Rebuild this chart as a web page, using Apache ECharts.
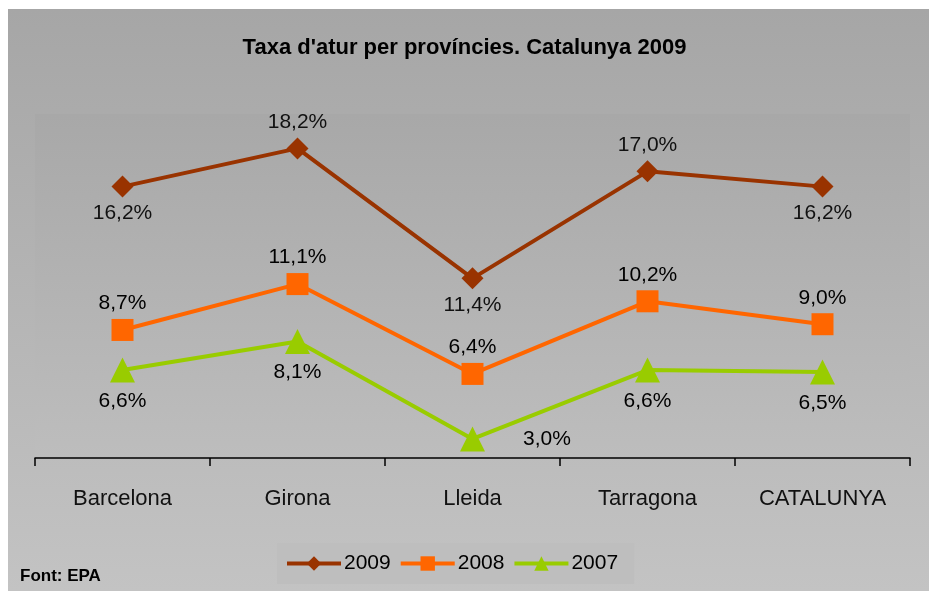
<!DOCTYPE html>
<html>
<head>
<meta charset="utf-8">
<script src="https://cdn.jsdelivr.net/npm/echarts@6/dist/echarts.min.js"></script>
<style>
html,body{margin:0;padding:0;background:#fff;}
#c{width:929px;height:591px;}
</style>
</head>
<body>
<div id="c"></div>
<script>
const categories = ['Barcelona', 'Girona', 'Lleida', 'Tarragona', 'CATALUNYA'];
const seriesNames = ['2009', '2008', '2007'];
const values2009 = [16.2, 18.2, 11.4, 17.0, 16.2];
const values2008 = [8.7, 11.1, 6.4, 10.2, 9.0];
const values2007 = [6.6, 8.1, 3.0, 6.6, 6.5];
const valueLabels2009 = ['16,2%', '18,2%', '11,4%', '17,0%', '16,2%'];
const valueLabels2008 = ['8,7%', '11,1%', '6,4%', '10,2%', '9,0%'];
const valueLabels2007 = ['6,6%', '8,1%', '3,0%', '6,6%', '6,5%'];

const NARROW = '"Liberation Sans Narrow", "Arial Narrow", "Liberation Sans", sans-serif';
const REG = '"Liberation Sans", Arial, sans-serif';

// label placement per point (style)
const place2009 = ['bottom', 'top', 'bottom', 'top', 'bottom'];
const place2008 = ['top', 'top', 'top', 'top', 'top'];
const place2007 = ['bottom', 'bottom', 'right', 'bottom', 'bottom'];

function build(vals, texts, places, dist, rightDist) {
  return vals.map((v, i) => ({
    value: v,
    label: {
      position: places[i],
      distance: places[i] === 'right' ? rightDist : dist,
      formatter: texts[i]
    }
  }));
}

const chart = echarts.init(document.getElementById('c'));
chart.setOption({
  backgroundColor: '#ffffff',
  animation: false,
  graphic: [{
    type: 'rect',
    z: -10,
    silent: true,
    shape: {x: 8, y: 9, width: 921, height: 582},
    style: {
      fill: new echarts.graphic.LinearGradient(0, 0, 0, 1, [
        {offset: 0, color: '#a6a6a6'},
        {offset: 1, color: '#c3c3c3'}
      ])
    }
  }, {
    type: 'text',
    left: 20,
    top: 568,
    style: {text: 'Font: EPA', font: 'bold 17px ' + NARROW, fill: '#000'}
  }],
  title: {
    text: "Taxa d'atur per províncies. Catalunya 2009",
    left: 'center',
    top: 32,
    textStyle: {fontFamily: NARROW, fontWeight: 'bold', fontSize: 22, color: '#000'}
  },
  legend: {
    bottom: 7,
    left: 277,
    data: seriesNames,
    itemWidth: 54,
    itemHeight: 18,
    itemGap: 8,
    backgroundColor: '#bebebe',
    padding: [10, 16, 10, 8],
    lineStyle: {width: 4},
    textStyle: {fontFamily: REG, fontSize: 21, color: '#000', padding: [0, 0, 0, -2]}
  },
  grid: {
    left: 35, right: 19, top: 114, bottom: 133,
    show: true,
    borderWidth: 0,
    backgroundColor: new echarts.graphic.LinearGradient(0, 0, 0, 1, [
      {offset: 0, color: '#a8a8a8'},
      {offset: 1, color: '#bdbdbd'}
    ])
  },
  xAxis: {
    type: 'category',
    data: categories,
    boundaryGap: true,
    axisLine: {lineStyle: {color: '#000', width: 1.5}},
    axisTick: {show: true, length: 8, lineStyle: {color: '#000', width: 1.5}},
    axisLabel: {fontFamily: NARROW, fontSize: 22, color: '#111', margin: 30}
  },
  yAxis: {
    type: 'value',
    min: 2, max: 20,
    show: false,
    splitLine: {show: false}
  },
  series: [{
    name: '2009',
    type: 'line',
    data: build(values2009, valueLabels2009, place2009, 5, 10),
    symbol: 'diamond',
    symbolSize: [22, 22],
    lineStyle: {color: '#993300', width: 4},
    itemStyle: {color: '#993300'},
    label: {show: true, fontFamily: NARROW, fontSize: 21, color: '#111'}
  }, {
    name: '2008',
    type: 'line',
    data: build(values2008, valueLabels2008, place2008, 5, 10),
    symbol: 'rect',
    symbolSize: 22,
    lineStyle: {color: '#ff6600', width: 4},
    itemStyle: {color: '#ff6600'},
    label: {show: true, fontFamily: REG, fontSize: 21, color: '#000'}
  }, {
    name: '2007',
    type: 'line',
    data: build(values2007, valueLabels2007, place2007, 8, 38),
    symbol: 'triangle',
    symbolSize: 25,
    lineStyle: {color: '#99cc00', width: 4},
    itemStyle: {color: '#99cc00'},
    label: {show: true, fontFamily: REG, fontSize: 21, color: '#000'}
  }]
});
</script>
</body>
</html>
